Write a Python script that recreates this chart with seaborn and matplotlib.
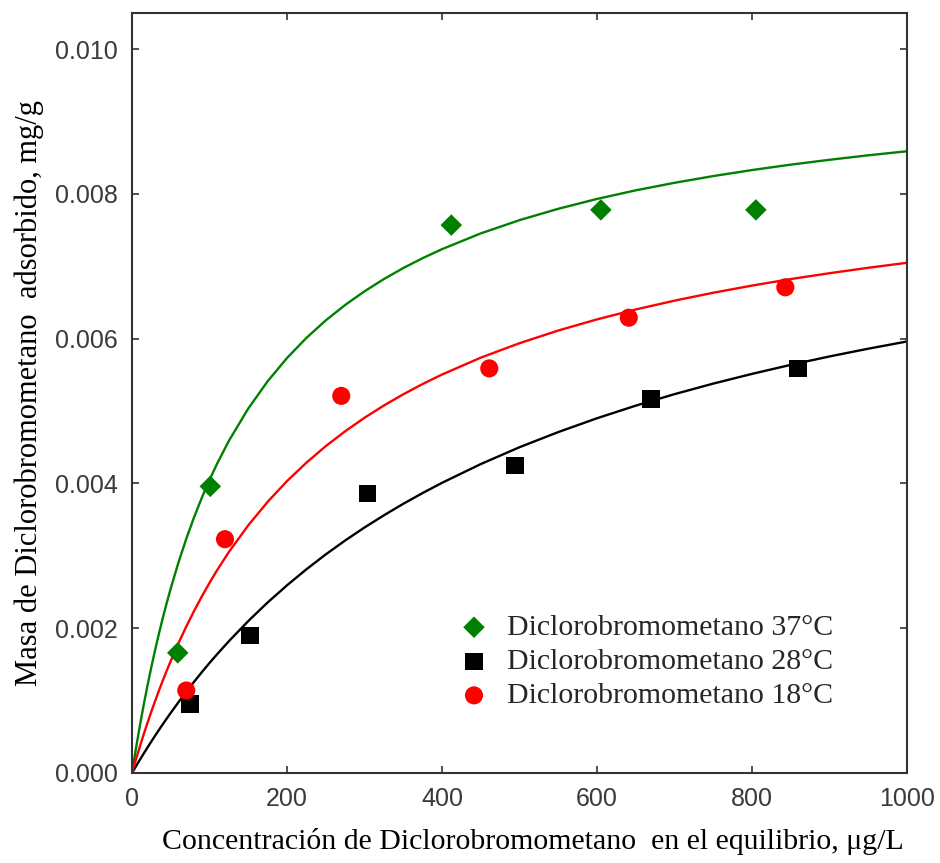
import matplotlib
matplotlib.use("Agg")
import matplotlib.pyplot as plt
import seaborn as sns

# ---- data ----
# measured points
x37 = [59, 101, 412, 605, 805]
y37 = [0.00166, 0.00396, 0.00757, 0.00778, 0.00778]
x28 = [75, 152, 304, 494, 670, 859]
y28 = [0.00095, 0.00190, 0.00386, 0.00425, 0.00517, 0.00559]
x18 = [70, 120, 270, 461, 641, 843]
y18 = [0.00114, 0.00323, 0.00521, 0.00559, 0.00629, 0.00671]

# fitted curves
cx = [0, 5, 10, 15, 20, 25, 30, 35, 40, 45, 50, 60, 70, 80, 90, 100, 110, 125,
      150, 175, 200, 225, 250, 275, 300, 325, 350, 375, 400, 450, 500, 550, 600,
      650, 700, 750, 800, 850, 900, 950, 1000]
c37 = [0, .000333, .000644, .000936, .001209, .001466, .001708, .001937, .002153,
       .002357, .002551, .002910, .003235, .003531, .003801, .004050, .004278,
       .004589, .005035, .005412, .005733, .006011, .006253, .006466, .006655,
       .006824, .006976, .007113, .007237, .007455, .007638, .007795, .007931,
       .008050, .008154, .008247, .008330, .008405, .008472, .008534, .008590]
c28 = [0, .0000908, .000180, .000267, .000352, .000436, .000518, .000599, .000678,
       .000755, .000831, .000979, .001122, .001259, .001392, .001520, .001643,
       .001821, .002099, .002356, .002593, .002814, .003020, .003212, .003392,
       .003560, .003719, .003868, .004009, .004268, .004501, .004710, .004901,
       .005075, .005234, .005380, .005514, .005639, .005755, .005862, .005962]
c18 = [0, .000184, .000361, .000531, .000694, .000850, .001000, .001145, .001284,
       .001419, .001548, .001794, .002023, .002237, .002438, .002627, .002805,
       .003053, .003422, .003746, .004033, .004287, .004516, .004721, .004908,
       .005077, .005232, .005374, .005505, .005738, .005938, .006113, .006267,
       .006404, .006526, .006635, .006734, .006824, .006905, .006980, .007049]

labels = ["Diclorobromometano 37°C", "Diclorobromometano 28°C", "Diclorobromometano 18°C"]
xticks = [0, 200, 400, 600, 800, 1000]
yticks = [0.000, 0.002, 0.004, 0.006, 0.008, 0.010]

sns.set_theme(style="white")
plt.rcParams['font.family'] = ['Liberation Sans', 'DejaVu Sans']

fig = plt.figure(figsize=(9.4, 8.63), dpi=100)
ax = fig.add_axes([132/940, 1 - 773/863, (907-132)/940, (773-13)/863])

colors = ["#008000", "black", "#ff0000"]
curves = [c37, c28, c18]
for cy, col in zip(curves, colors):
    sns.lineplot(x=cx, y=cy, color=col, lw=1.7, ax=ax, legend=False, sort=False)

pts = [(x37, y37, 'D', 120), (x28, y28, 's', 160), (x18, y18, 'o', 170)]
for (px, py, mk, s), col, lab in zip(pts, colors, labels):
    sns.scatterplot(x=px, y=py, marker=mk, s=s, color=col, edgecolor='none',
                    ax=ax, label=lab, zorder=5)

ax.set_xlim(0, 1000)
ax.set_ylim(0, 0.0105)
ax.set_xticks(xticks)
ax.set_yticks(yticks)
ax.set_yticklabels([f"{v:.3f}" for v in yticks])
ax.tick_params(direction='in', length=5, width=1.2, top=True, right=True,
               labelsize=18, labelcolor='#3a3a3a', color='#333333', pad=10,
               bottom=True, left=True)
for sp in ax.spines.values():
    sp.set_color('#333333')
    sp.set_linewidth(1.5)

serif = ['Liberation Serif', 'DejaVu Serif']
ax.set_xlabel("Concentración de Diclorobromometano  en el equilibrio, μg/L",
              fontsize=21.5, family=serif, color='black')
ax.xaxis.set_label_coords(0.517, -0.072)
ax.set_ylabel("Masa de Diclorobromometano  adsorbido, mg/g",
              fontsize=22, family=serif, color='black', labelpad=8)

leg = ax.legend(loc='upper left', bbox_to_anchor=(0.422, 0.209), frameon=False,
                prop={'family': serif, 'size': 21.5}, handletextpad=0.6,
                handlelength=1.0, labelspacing=0.24, borderaxespad=0,
                borderpad=0)

fig.savefig("out.png", dpi=100)
